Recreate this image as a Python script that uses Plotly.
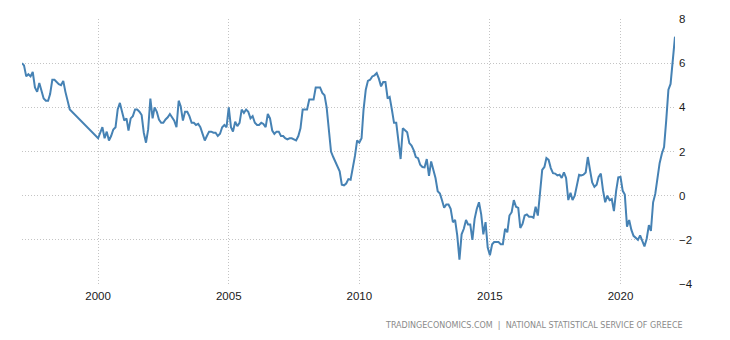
import pandas as pd
import plotly.graph_objects as go

# Greece inflation rate (%), monthly; 1999 not in the series
v_1997 = [6.0, 5.9, 5.4, 5.5, 5.4, 5.6, 4.9, 4.7, 5.1, 4.7, 4.4]          # Feb-Dec
v_1998 = [4.3, 4.3, 4.6, 5.25, 5.25, 5.15, 5.05, 5.0, 5.2, 4.7, 4.3, 3.9]
v_2000 = [2.6, 2.9, 3.1, 2.6, 2.9, 2.5, 2.7, 3.0, 3.1, 3.9, 4.2, 3.8]
v_2001 = [3.4, 3.5, 2.95, 3.5, 3.6, 3.9, 3.9, 3.8, 3.65, 2.85, 2.4, 3.0]
v_2002 = [4.4, 3.5, 4.0, 3.8, 3.45, 3.3, 3.3, 3.45, 3.55, 3.7, 3.55, 3.4]
v_2003 = [3.1, 4.3, 4.05, 3.4, 3.8, 3.8, 3.6, 3.3, 3.3, 3.2, 3.25, 3.1]
v_2004 = [2.8, 2.5, 2.7, 2.9, 2.9, 2.85, 2.85, 2.7, 2.8, 3.1, 3.2, 3.1]
v_2005 = [4.0, 3.1, 2.9, 3.35, 3.15, 3.3, 3.9, 3.75, 3.9, 3.8, 3.5, 3.6]
v_2006 = [3.3, 3.2, 3.2, 3.3, 3.25, 3.1, 3.7, 3.5, 2.95, 2.8, 2.9, 2.9]
v_2007 = [2.7, 2.7, 2.6, 2.55, 2.6, 2.6, 2.55, 2.5, 2.7, 3.05, 3.9, 3.9]
v_2008 = [3.9, 4.35, 4.35, 4.35, 4.9, 4.9, 4.9, 4.65, 4.55, 4.0, 2.9, 2.0]
v_2009 = [1.75, 1.55, 1.3, 1.1, 0.5, 0.47, 0.55, 0.75, 0.72, 1.2, 1.8, 2.5]
v_2010 = [2.4, 2.6, 3.9, 4.8, 5.2, 5.25, 5.4, 5.45, 5.55, 5.3, 4.95, 5.15]
v_2011 = [5.15, 4.4, 4.47, 3.9, 3.3, 3.3, 2.5, 1.66, 3.05, 2.95, 2.87, 2.38]
v_2012 = [2.27, 2.05, 1.75, 1.7, 1.4, 1.3, 1.28, 1.66, 0.9, 1.55, 1.15, 0.8]
v_2013 = [0.2, 0.1, -0.2, -0.55, -0.4, -0.4, -0.6, -1.2, -1.1, -1.8, -2.9, -1.75]
v_2014 = [-1.5, -1.1, -1.3, -1.3, -2.0, -1.05, -0.6, -0.3, -0.85, -1.75, -1.2, -2.35]
v_2015 = [-2.7, -2.2, -2.1, -2.1, -2.1, -2.2, -2.2, -1.5, -1.66, -0.9, -0.75, -0.2]
v_2016 = [-0.5, -0.55, -1.46, -1.28, -0.9, -0.85, -0.95, -0.95, -1.0, -0.5, -0.9, 0.1]
v_2017 = [1.17, 1.3, 1.7, 1.62, 1.25, 1.02, 1.0, 0.92, 0.95, 0.8, 1.05, 0.8]
v_2018 = [-0.2, 0.13, -0.2, 0.0, 0.55, 0.95, 0.92, 0.95, 1.05, 1.75, 1.15, 0.6]
v_2019 = [0.4, 0.5, 0.85, 1.0, 0.25, -0.3, 0.0, -0.2, -0.15, -0.7, 0.22, 0.83]
v_2020 = [0.85, 0.22, 0.05, -1.4, -1.1, -1.55, -1.82, -1.9, -2.0, -1.8, -2.05, -2.3]
v_2021 = [-1.95, -1.33, -1.6, -0.3, 0.08, 0.9, 1.47, 1.9, 2.2, 3.4, 4.8, 5.06]
v_2022 = [6.2, 7.2]                                                      # Jan-Feb

tick_years = [2000, 2005, 2010, 2015, 2020]
y_ticks = [-4, -2, 0, 2, 4, 6, 8]
source_text = "TRADINGECONOMICS.COM  |  NATIONAL STATISTICAL SERVICE OF GREECE"

early = v_1997 + v_1998
late = (v_2000 + v_2001 + v_2002 + v_2003 + v_2004 + v_2005 + v_2006 + v_2007
        + v_2008 + v_2009 + v_2010 + v_2011 + v_2012 + v_2013 + v_2014 + v_2015
        + v_2016 + v_2017 + v_2018 + v_2019 + v_2020 + v_2021 + v_2022)
dates = list(pd.date_range("1997-02-01", periods=len(early), freq="MS")) + \
        list(pd.date_range("2000-01-01", periods=len(late), freq="MS"))
values = early + late

fig = go.Figure()
fig.add_trace(go.Scatter(x=dates, y=values, mode="lines",
                         line=dict(color="#4682b4", width=2), showlegend=False,
                         hoverinfo="skip"))

grid_dash = "1px,2px"
fig.update_layout(
    width=730, height=340,
    margin=dict(l=22, r=55, t=19, b=56),
    paper_bgcolor="white", plot_bgcolor="white",
    font=dict(family="Liberation Sans, Arial, sans-serif", size=11.5, color="#1a1a1a"),
    xaxis=dict(range=[dates[0], dates[-1]],
               tickvals=[pd.Timestamp(f"{y}-01-01") for y in tick_years],
               ticktext=[str(y) for y in tick_years],
               showgrid=True, gridcolor="#c4c4c4", griddash=grid_dash, gridwidth=1,
               showline=False, zeroline=False, ticks="", ticklabelstandoff=3,
               fixedrange=True),
    yaxis=dict(range=[-4, 8], tickvals=y_ticks, side="right",
               showgrid=True, gridcolor="#c4c4c4", griddash=grid_dash, gridwidth=1,
               showline=False, zeroline=False, ticks="", ticklabelstandoff=3,
               fixedrange=True),
    annotations=[dict(text=source_text, xref="paper", yref="paper",
                      x=(685 - 22) / 653, y=(284 - 325) / 265,
                      xanchor="right", yanchor="middle", showarrow=False,
                      font=dict(family="DejaVu Sans, sans-serif", size=8, color="#8a8a8a"))],
)

fig.write_html("out.html", config={"displayModeBar": False},
               post_script="document.body.style.margin='0';document.body.style.overflow='hidden';")
